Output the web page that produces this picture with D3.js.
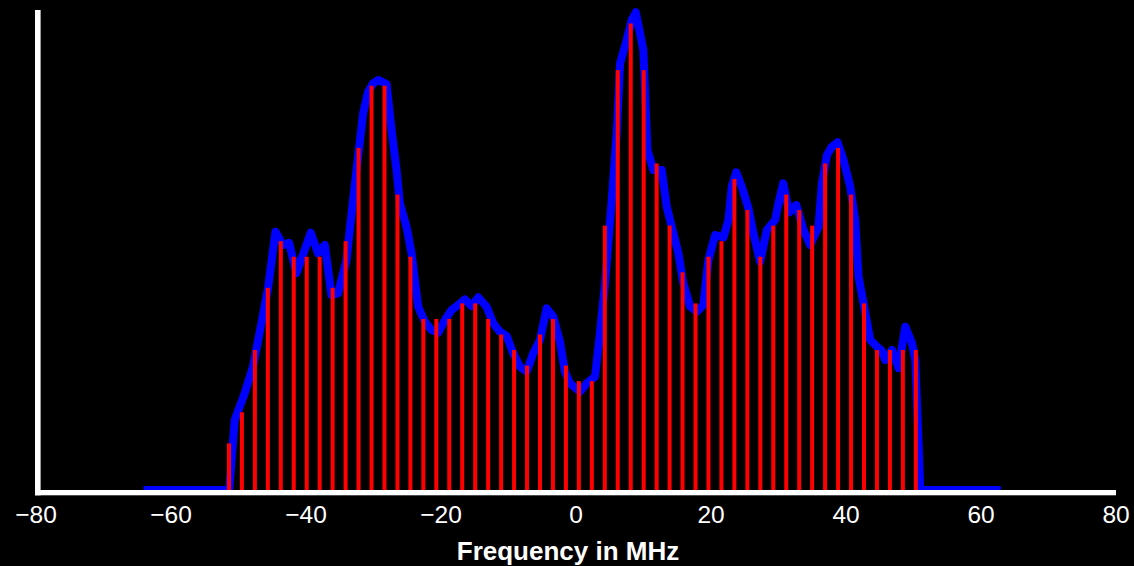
<!DOCTYPE html>
<html>
<head>
<meta charset="utf-8">
<script src="https://cdn.jsdelivr.net/npm/d3@7"></script>
<style>
  html, body { margin: 0; padding: 0; background: #000; }
  svg { display: block; }
</style>
</head>
<body>
<svg id="chart" width="1134" height="566"></svg>
<script>
// ---- data ----
const barFreq = [-51.34,-49.42,-47.50,-45.58,-43.66,-41.74,-39.82,-37.90,-35.98,-34.06,
  -32.14,-30.22,-28.30,-26.38,-24.46,-22.54,-20.62,-18.70,-16.78,-14.86,
  -12.94,-11.02,-9.10,-7.18,-5.26,-3.34,-1.42,0.50,2.42,4.34,
  6.26,8.18,10.10,12.02,13.94,15.86,17.78,19.70,21.62,23.54,
  25.46,27.38,29.30,31.22,33.14,35.06,36.98,38.90,40.82,42.74,
  44.66,46.58,48.50,50.42];
const barLevel = [3,5,9,13,16,15,15,15,13,16,
  22,26,26,19,15,11,11,11,12,12,
  11,10,9,8,10,11,8,7,7,17,
  27,30,27,21,17,14,12,15,16,20,
  18,15,17,19,18,17,21,22,19,12,
  9,9,9,9];

const curveFreq = [-64,-51.30,-50.49,-49.01,-47.78,-46.53,-45.55,-44.45,-43.33,-42.44,
  -41.34,-39.22,-38.14,-37.14,-36.15,-35.17,-33.93,-32.95,-32.21,-31.46,
  -30.72,-29.98,-29.24,-28.00,-27.25,-26.51,-26.02,-25.03,-24.29,-23.31,
  -22.32,-21.32,-20.34,-19.35,-18.36,-17.38,-16.39,-15.39,-14.41,-13.17,
  -12.19,-11.20,-10.20,-9.22,-8.23,-7.24,-6.26,-5.26,-4.27,-3.29,
  -2.30,-1.56,-0.82,0.67,1.66,2.89,3.63,4.37,5.37,6.11,
  6.60,7.59,8.33,8.93,9.56,10.05,10.65,11.54,12.78,13.52,
  14.26,15.24,15.98,16.98,17.97,18.95,19.69,20.69,21.92,22.66,
  23.16,23.80,24.64,25.62,26.36,27.36,28.35,29.58,30.07,30.77,
  31.66,32.70,33.78,34.77,36.00,36.51,37.25,37.99,38.82,39.71,
  40.70,41.44,41.93,42.67,43.67,44.66,45.30,45.89,46.89,47.86,
  48.86,49.85,50.34,51.08,63];
const curveLevel = [0,0,4.50,6.22,7.93,10.72,12.97,16.61,15.76,15.90,
  13.94,16.55,15.22,15.76,12.54,12.65,14.79,18.65,21.43,24.23,
  25.61,26.15,26.37,26.11,23.15,20.58,18.44,16.93,15.22,11.79,
  10.82,10.29,10.12,10.93,11.58,11.90,12.26,11.83,12.39,11.79,
  10.72,10.18,9.90,8.79,7.93,7.61,8.79,9.65,11.68,11.14,
  9.52,7.59,6.86,6.32,6.86,7.29,10.08,13.29,18.65,22.94,
  27.44,28.94,30.23,30.72,29.37,28.30,21.86,20.58,20.58,18.22,
  16.93,15.22,13.29,11.79,11.47,11.90,14.79,16.40,16.25,17.36,
  19.50,20.43,19.50,18.12,16.51,14.68,16.72,17.36,18.44,19.72,
  17.85,18.33,16.72,15.76,16.93,19.72,21.54,22.08,22.36,21.22,
  19.50,17.36,13.72,12.01,9.65,9.22,9.00,8.36,9.00,7.83,
  10.50,9.43,8.36,0,0];

const xTicks = [-80,-60,-40,-20,0,20,40,60,80];
const xLabel = "Frequency in MHz";

// ---- drawing ----
const svg = d3.select("#chart");
svg.append("rect").attr("width",1134).attr("height",566).attr("fill","#000");

const x = d3.scaleLinear().domain([-80, 80]).range([35.5, 1115.5]);
const y = d3.scaleLinear().domain([0, 30]).range([490, 23.5]);

// blue curve
const curvePts = curveFreq.map((f, i) => [f, curveLevel[i]]);
svg.append("path")
  .datum(curvePts)
  .attr("fill", "none")
  .attr("stroke", "#0000ff")
  .attr("stroke-width", 8)
  .attr("stroke-linejoin", "round")
  .attr("d", d3.line().x(d => x(d[0])).y(d => y(d[1])));

// red stems
svg.append("g").selectAll("rect")
  .data(barFreq.map((f, i) => ({f, v: barLevel[i]})))
  .join("rect")
  .attr("x", d => x(d.f) - 2)
  .attr("y", d => y(d.v))
  .attr("width", 4)
  .attr("height", d => y(0) - y(d.v))
  .attr("fill", "#ff0000");

// axes lines (white, thick)
svg.append("rect").attr("x", 35).attr("y", 10).attr("width", 5.6).attr("height", 485.3).attr("fill", "#fff");
svg.append("rect").attr("x", 35).attr("y", 490).attr("width", 1081).attr("height", 5.3).attr("fill", "#fff");

// x axis tick labels
const xAxis = d3.axisBottom(x).tickValues(xTicks).tickSize(0).tickPadding(0);
const gx = svg.append("g").call(xAxis);
gx.select(".domain").remove();
gx.selectAll("text")
  .attr("y", 522.5)
  .attr("dy", null)
  .attr("fill", "#fff")
  .style("font-family", "'Liberation Sans', Arial, sans-serif")
  .style("font-size", "24.5px");

// x axis title
svg.append("text")
  .attr("x", 568)
  .attr("y", 559.5)
  .attr("text-anchor", "middle")
  .attr("fill", "#fff")
  .style("font-family", "'Liberation Sans', Arial, sans-serif")
  .style("font-weight", "bold")
  .style("font-size", "26px")
  .text(xLabel);
</script>
</body>
</html>
